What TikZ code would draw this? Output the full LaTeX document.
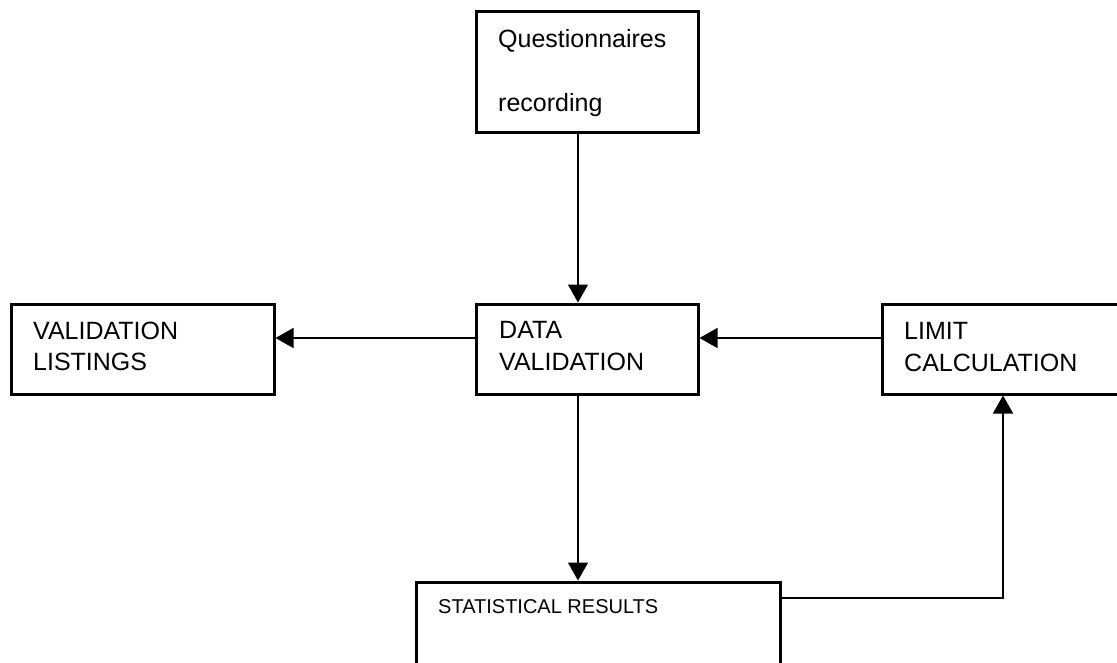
\documentclass[tikz,border=0pt]{standalone}
\usepackage{fontspec}
\setmainfont{Liberation Sans}
\usetikzlibrary{arrows.meta}
\begin{document}
\begin{tikzpicture}[x=1pt,y=-1pt,
  box/.style={draw=black, line width=3pt, fill=white, rectangle, inner sep=0pt},
  lbl/.style={anchor=base west, inner sep=0pt, font=\fontsize{25}{30}\selectfont},
  small/.style={anchor=base west, inner sep=0pt, font=\fontsize{20}{24}\selectfont},
  arr/.style={draw=black, line width=1.5pt, -{Triangle[length=18pt,width=20pt]}}]
\useasboundingbox[fill=white] (0,0) rectangle (1117,662);

% boxes
\node[box, minimum width=222pt, minimum height=121pt] (q)  at (587,71.5) {};
\node[box, minimum width=222pt, minimum height=90pt]  (dv) at (587,349) {};
\node[box, minimum width=263pt, minimum height=90pt]  (vl) at (142.5,349) {};
\node[box, minimum width=258pt, minimum height=90pt]  (lc) at (1011,349) {};
\node[box, minimum width=364pt, minimum height=98pt]  (sr) at (598,631) {};

% box texts
\node[lbl] (q1)  at (498,47)  {Questionnaires};
\node[lbl] (q2)  at (498,111) {recording};
\node[lbl] (dv1) at (499,338) {DATA};
\node[lbl] (dv2) at (499,370) {VALIDATION};
\node[lbl] (vl1) at (33,339)  {VALIDATION};
\node[lbl] (vl2) at (33,370)  {LISTINGS};
\node[lbl] (lc1) at (904,339) {LIMIT};
\node[lbl] (lc2) at (904,371) {CALCULATION};
\node[small] (sr1) at (438,613) {STATISTICAL RESULTS};

% connector guides
\coordinate (vx) at (578,0);
\coordinate (hy) at (0,338);
\coordinate (ry) at (0,598);
\coordinate (rx) at (1003,0);

% connectors
\draw[arr] (q.south -| vx) -- (dv.north -| vx);
\draw[arr] (dv.south -| vx) -- (sr.north -| vx);
\draw[arr] (dv.west |- hy) -- (vl.east |- hy);
\draw[arr] (lc.west |- hy) -- (dv.east |- hy);
\draw[arr] (sr.east |- ry) -| (lc.south -| rx);
\end{tikzpicture}
\end{document}
